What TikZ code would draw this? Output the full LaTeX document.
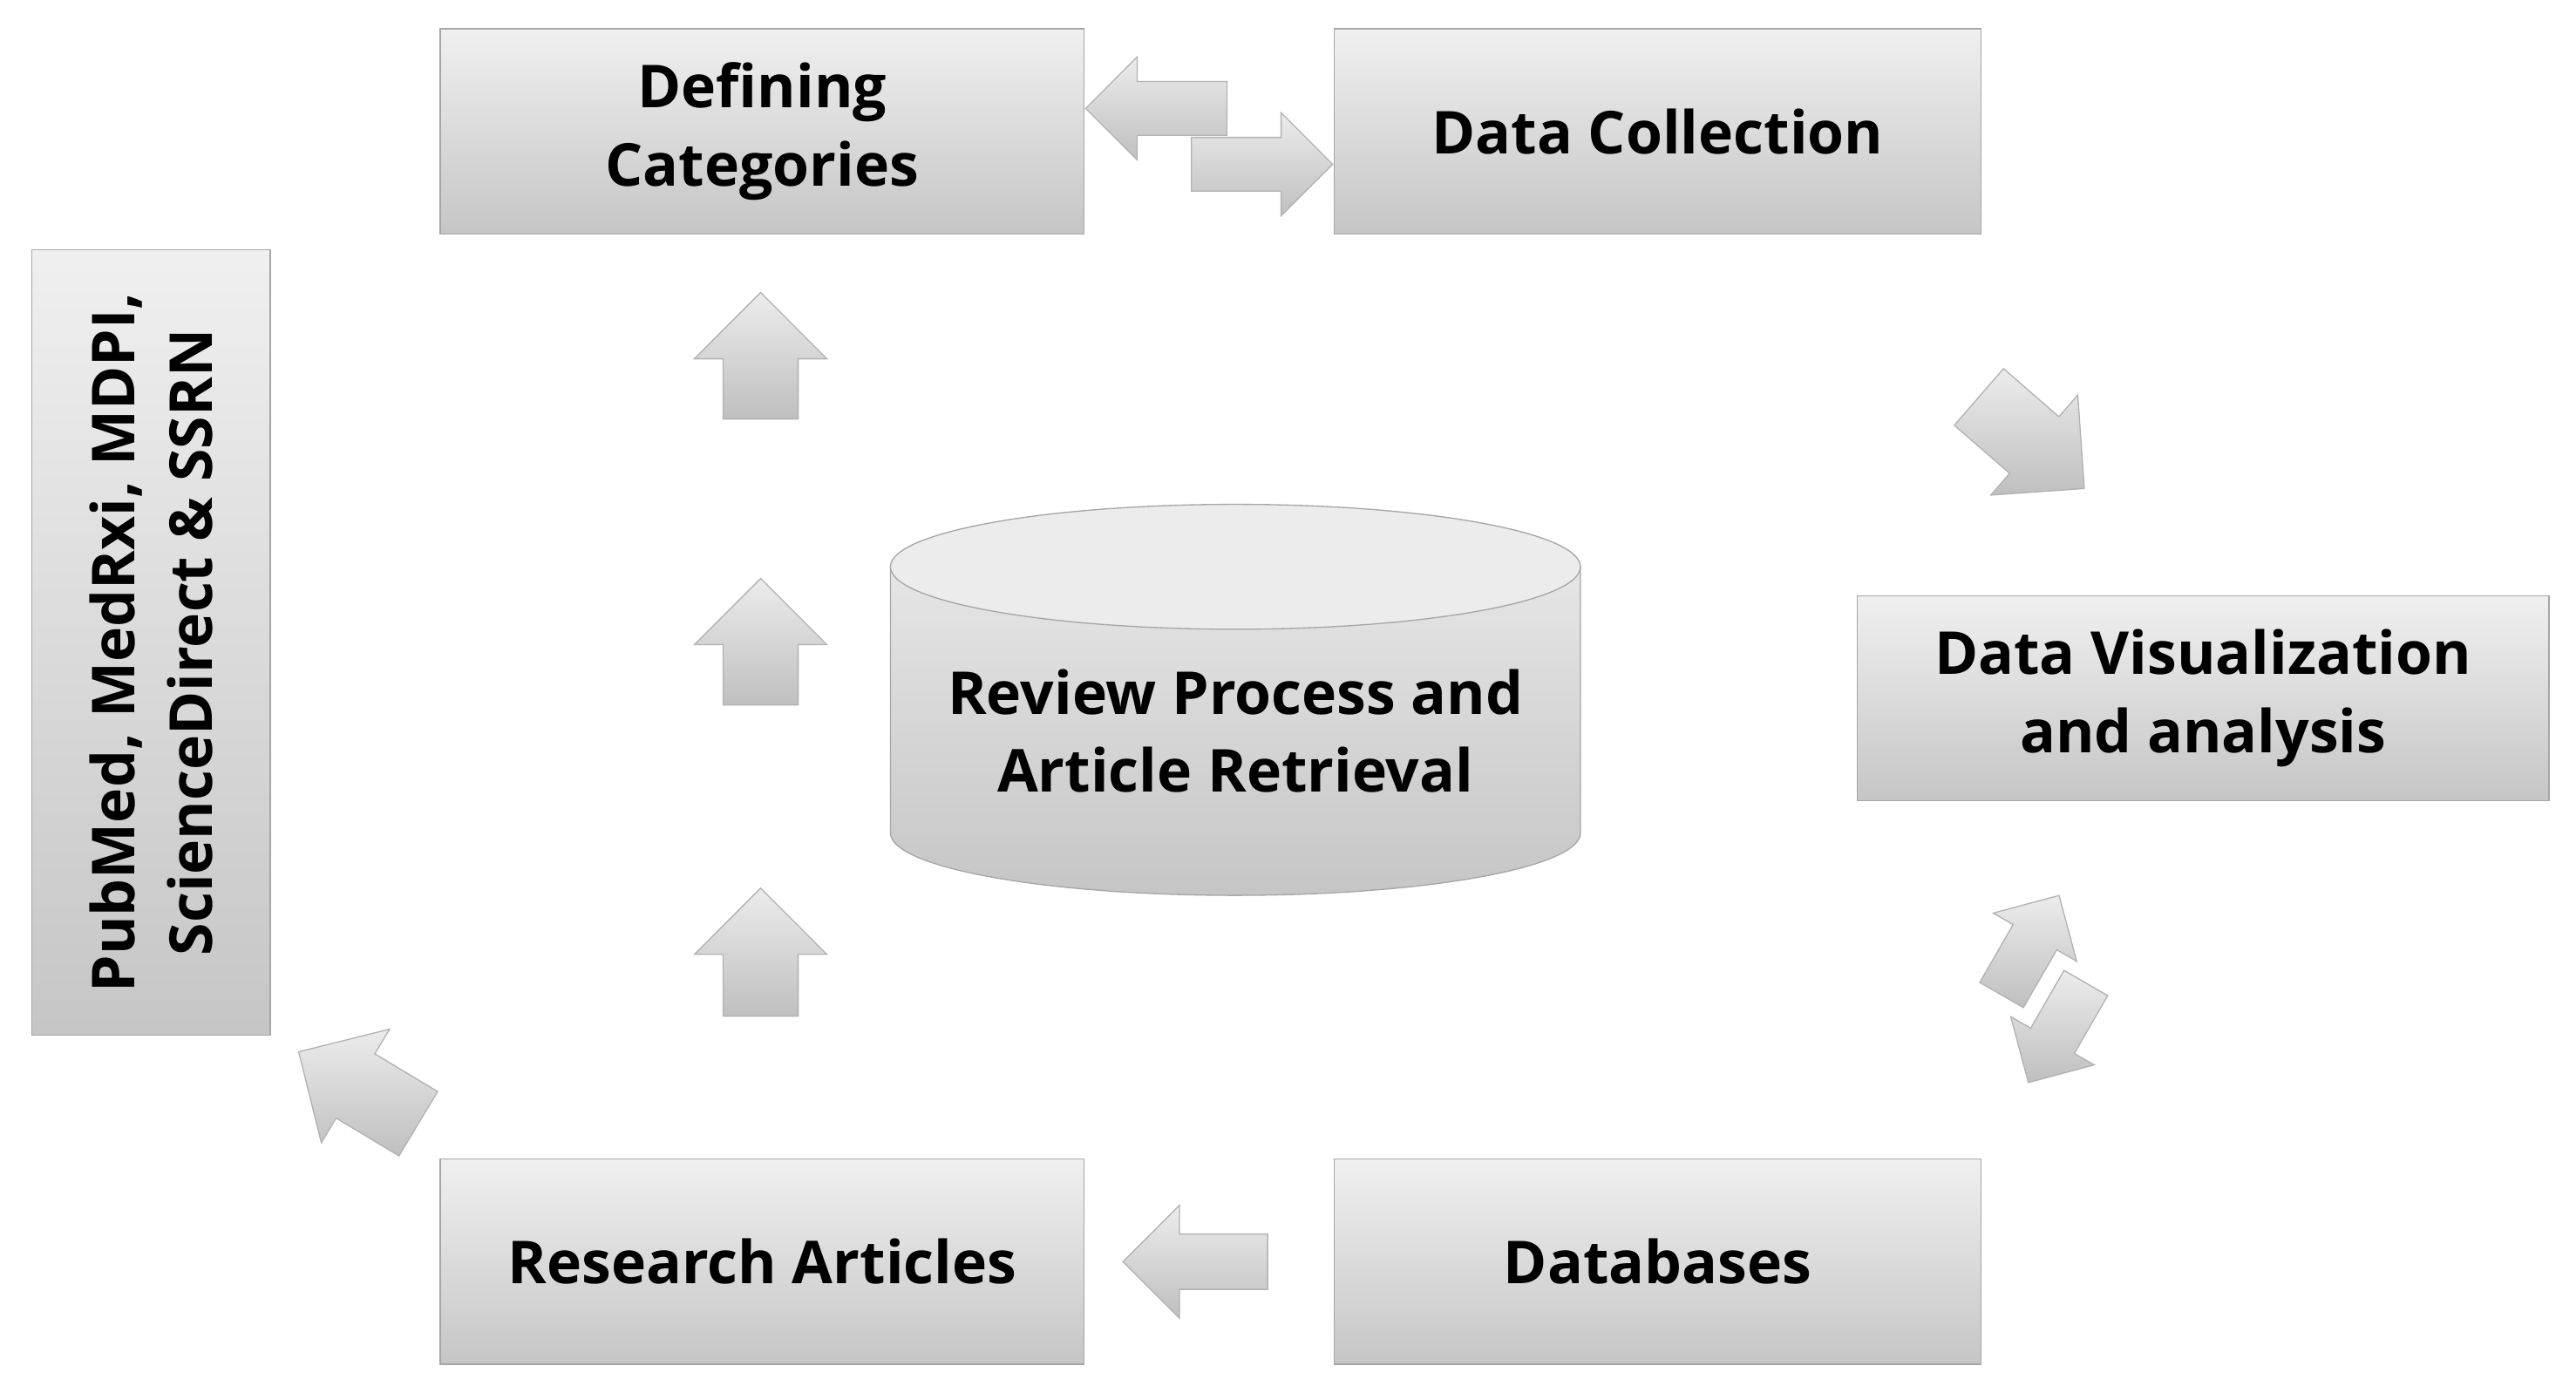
\documentclass[tikz,border=0pt]{standalone}
\usepackage{fontspec}
\setmainfont{Open Sans}
\usetikzlibrary{shapes.arrows}
\begin{document}
\begin{tikzpicture}[x=0.02cm,y=-0.02cm,
  box/.style={draw=gray!70,top color=gray!12,bottom color=gray!45,inner sep=0,
    font=\fontsize{20.5}{27}\selectfont\bfseries,align=center},
  barrow/.style={single arrow,draw=gray!60,top color=gray!15,bottom color=gray!50,
    inner xsep=0,inner ysep=0.45cm,single arrow head extend=0.35cm},
  uparrow/.style={barrow,shape border rotate=90,inner xsep=0.45cm,inner ysep=0}]
\useasboundingbox (0,0) rectangle (1568,852);
\node[box,minimum width=7.84cm,minimum height=2.5cm] (def) at (464,80) {Defining\\Categories};
\node[box,minimum width=7.88cm,minimum height=2.5cm] (col) at (1009,80) {Data Collection};
\node[box,minimum width=8.42cm,minimum height=2.5cm] (vis) at (1341,425) {Data Visualization\\and analysis};
\node[box,minimum width=7.88cm,minimum height=2.5cm] (db) at (1009,768) {Databases};
\node[box,minimum width=7.84cm,minimum height=2.5cm] (ra) at (464,768) {Research Articles};
\node[box,minimum width=2.9cm,minimum height=9.56cm] (pub) at (92,391) {};
\node[font=\fontsize{20.5}{27}\selectfont\bfseries,align=center,rotate=90] (pubt) at (92,391) {PubMed, MedRxi, MDPI,\\ScienceDirect \& SSRN};
% cylinder
\path[draw=gray!70,top color=gray!20,bottom color=gray!45]
  (542,345) -- (542,507) arc[start angle=180,end angle=360,x radius=210,y radius=-38] -- (962,345) -- cycle;
\path[draw=gray!70,fill=gray!15] (752,345) ellipse[x radius=210,y radius=38];
\node[font=\fontsize{20.5}{27}\selectfont\bfseries,align=center] (rev) at (752,445) {Review Process and\\Article Retrieval};
% arrows
\node[uparrow,minimum height=1.54cm] (u1) at (463,228) {};
\node[uparrow,minimum height=1.54cm] (u2) at (463,402) {};
\node[uparrow,minimum height=1.56cm] (u3) at (463,591) {};
\node[barrow,minimum height=1.72cm,shape border rotate=180,inner ysep=0.32cm,single arrow head extend=0.3cm] (dl) at (712,66) {};
\node[barrow,minimum height=1.72cm,inner ysep=0.32cm,single arrow head extend=0.3cm] (dr) at (760,100) {};
\node[barrow,minimum height=1.7cm,rotate=-41] (dg) at (1228,262) {};
\node[barrow,minimum height=1.7cm,rotate=149] (rp) at (228,668) {};
\node[barrow,minimum height=1.76cm,shape border rotate=180,inner ysep=0.33cm] (lb) at (736,768) {};
\node[barrow,minimum height=1.4cm,rotate=60,inner ysep=0.3cm,single arrow head extend=0.28cm] (c1) at (1232,582) {};
\node[barrow,minimum height=1.4cm,rotate=-120,inner ysep=0.3cm,single arrow head extend=0.28cm] (c2) at (1256,622) {};
\end{tikzpicture}
\end{document}
